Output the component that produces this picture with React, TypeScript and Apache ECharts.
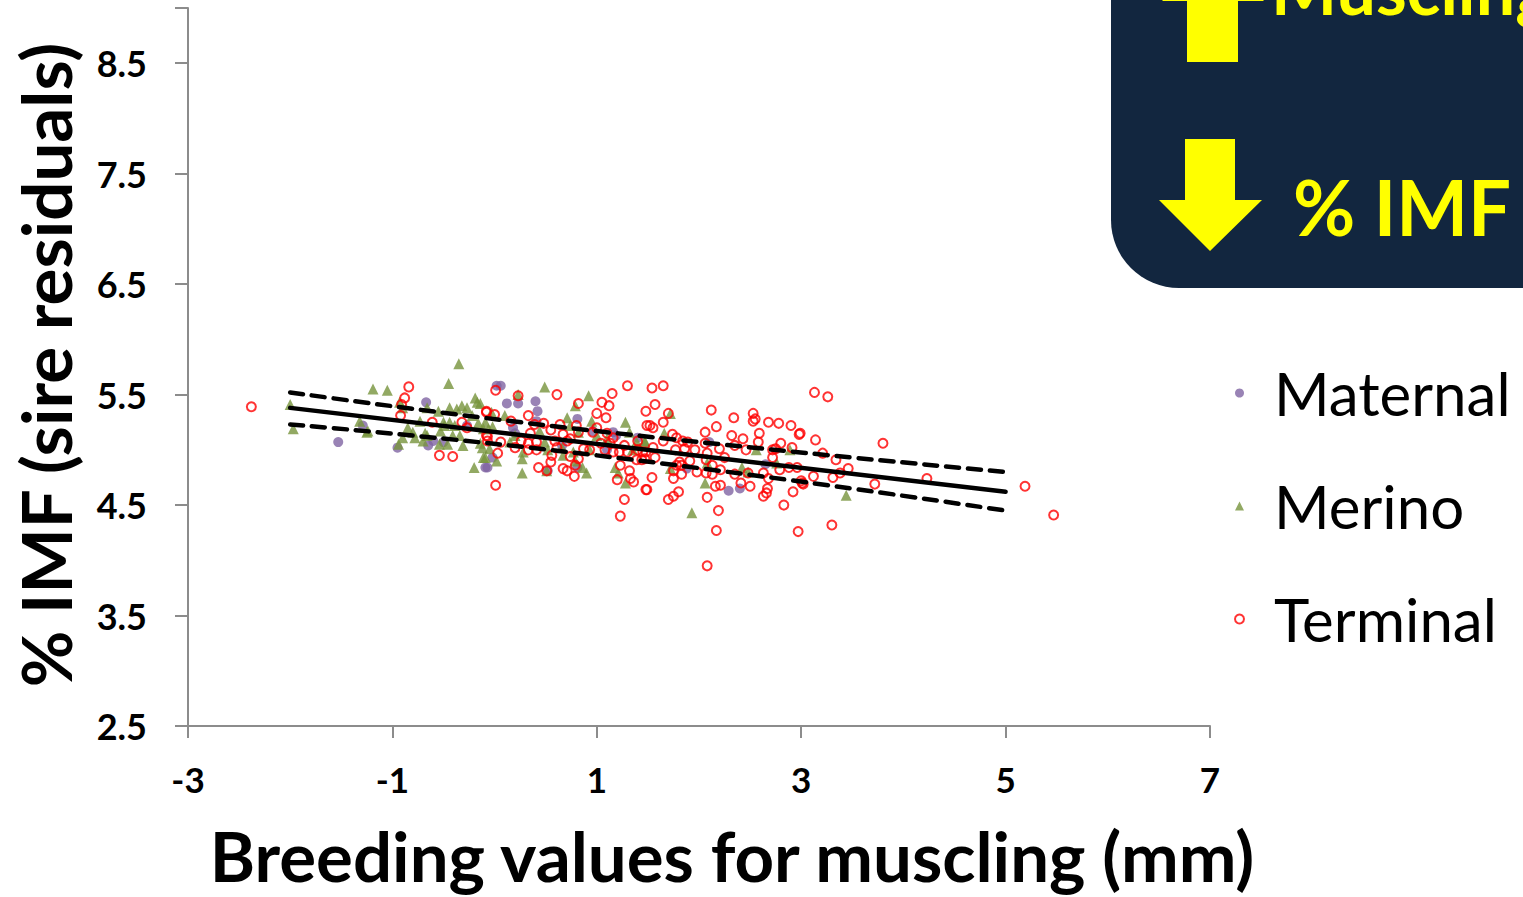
import React, { useEffect, useRef } from "react";
import * as echarts from "echarts";

const xTicks = { min: -3, max: 7, interval: 2 };
const yTicks = { min: 2.5, max: 9, interval: 1 };

const maternal: number[][] = [
  [-1.53, 5.07], [-1.29, 5.22], [-0.95, 5.02], [-0.67, 5.43], [-0.6, 5.08], [-0.65, 5.04], [-0.5, 5.07],
  [-0.27, 5.22], [-0.09, 4.84], [0.02, 5.58], [0.06, 5.58], [0.12, 5.42], [0.23, 5.42], [0.4, 5.44],
  [0.42, 5.35], [0.41, 5.26], [0.18, 5.2], [0.2, 5.15], [0.81, 5.28], [-0.07, 4.84], [0.52, 4.81],
  [1.16, 5.16], [1.19, 5.13], [1.1, 5.0], [0.96, 5.17], [0.81, 4.84], [1.4, 5.11], [-0.02, 4.93],
  [0.66, 5.04], [2.1, 5.07], [1.88, 4.83], [2.29, 4.63], [2.4, 4.65], [2.65, 4.87],
];

const merino: number[][] = [
  [-2.0, 5.41], [-1.97, 5.19], [-1.19, 5.55], [-1.05, 5.54], [-1.32, 5.26], [-1.24, 5.17], [-1.25, 5.16],
  [-0.93, 5.43], [-0.9, 5.38], [-0.94, 5.05], [-0.85, 5.2], [-0.8, 5.16], [-0.78, 5.11], [-0.9, 5.11],
  [-0.73, 5.26], [-0.68, 5.15], [-0.7, 5.08], [-0.66, 5.38], [-0.55, 5.35], [-0.45, 5.6], [-0.35, 5.78],
  [-0.44, 5.38], [-0.37, 5.37], [-0.32, 5.4], [-0.27, 5.38], [-0.19, 5.47], [-0.17, 5.43], [-0.22, 5.31],
  [-0.5, 5.25], [-0.49, 5.22], [-0.44, 5.25], [-0.39, 5.22], [-0.53, 5.17], [-0.54, 5.05], [-0.46, 5.05],
  [-0.34, 5.13], [-0.31, 5.04], [-0.16, 5.24], [-0.2, 4.84], [-0.11, 4.93], [-0.14, 5.06], [-0.06, 5.19],
  [-0.66, 5.13], [-0.41, 5.13],
  [0.23, 5.5], [0.49, 5.57], [0.92, 5.49], [0.79, 5.4], [-0.14, 5.42], [-0.03, 5.34], [-0.09, 5.25],
  [0.1, 5.31], [-0.02, 5.21], [-0.11, 5.19], [-0.12, 5.02], [-0.05, 5.01], [-0.09, 4.93], [0.02, 4.9],
  [0.15, 5.07], [0.2, 5.13], [0.27, 4.92], [0.28, 4.98], [0.44, 5.17], [0.49, 5.07], [0.52, 5.0],
  [0.66, 5.02], [0.67, 4.95], [0.71, 5.29], [0.74, 5.22], [0.77, 4.98], [0.79, 4.9], [0.86, 4.84],
  [0.9, 4.79], [0.82, 5.16], [0.93, 5.0], [0.95, 5.26], [1.0, 5.13], [1.1, 5.1], [1.18, 4.84],
  [1.21, 4.79], [1.28, 5.25], [1.28, 4.7], [1.32, 5.16], [1.35, 5.0], [1.39, 5.07], [1.47, 5.08],
  [0.27, 4.79], [0.51, 4.81],
  [1.72, 5.33], [1.47, 5.07], [1.66, 5.15], [1.72, 4.83], [2.06, 4.7], [1.93, 4.43], [2.42, 4.84],
  [2.48, 4.8], [2.56, 5.0], [2.89, 5.0], [2.76, 4.88], [2.08, 4.88], [3.44, 4.59],
];

const terminal: number[][] = [
  [-2.38, 5.39], [-0.84, 5.57], [-0.88, 5.47], [-0.91, 5.41], [-0.92, 5.31], [-0.61, 5.25], [-0.54, 4.95],
  [-0.41, 4.94], [-0.32, 5.25], [-0.27, 5.2], [-0.08, 5.35], [-0.07, 5.12], [-0.07, 5.08], [0.01, 4.68],
  [0.01, 5.54], [0.23, 5.49], [0.61, 5.5], [0.82, 5.42], [1.15, 5.51], [1.3, 5.58], [1.05, 5.43],
  [1.12, 5.4], [1.48, 5.35], [-0.08, 5.34], [0.0, 5.32], [0.33, 5.31], [0.16, 5.26], [1.0, 5.33],
  [1.09, 5.29], [0.39, 5.23], [0.48, 5.24], [0.55, 5.18], [0.64, 5.23], [0.8, 5.22], [0.82, 5.16],
  [0.35, 5.15], [0.67, 5.14], [0.74, 5.1], [1.0, 5.2], [0.96, 5.16], [1.1, 5.15], [1.16, 5.11],
  [-0.08, 5.13], [0.06, 5.07], [0.2, 5.02], [0.26, 5.08], [0.33, 5.06], [0.41, 5.07], [0.41, 5.0],
  [0.33, 5.0], [0.59, 5.08], [0.61, 5.02], [0.71, 5.08], [0.87, 5.01], [0.93, 5.0], [1.04, 5.06],
  [1.13, 5.06], [1.08, 5.0], [1.16, 4.98], [1.27, 5.04], [1.22, 4.98], [1.3, 4.98], [1.4, 5.08],
  [1.4, 5.0], [1.48, 4.98], [1.49, 5.22], [0.03, 4.97], [0.56, 4.95], [0.55, 4.89], [0.74, 4.94],
  [0.82, 4.92], [0.43, 4.84], [0.51, 4.81], [0.67, 4.83], [0.71, 4.81], [0.79, 4.86], [0.78, 4.76],
  [1.23, 4.86], [1.32, 4.81], [1.2, 4.73], [1.33, 4.74], [1.36, 4.71], [1.48, 4.64], [1.27, 4.55],
  [1.23, 4.4], [1.39, 4.91], [1.44, 4.91],
  [1.54, 5.56], [1.65, 5.58], [1.57, 5.41], [1.7, 5.33], [2.12, 5.36], [2.34, 5.29], [2.53, 5.33],
  [2.55, 5.28], [2.53, 5.26], [2.68, 5.25], [2.78, 5.24], [2.9, 5.22], [2.98, 5.14], [1.52, 5.22],
  [1.55, 5.2], [1.65, 5.25], [2.17, 5.21], [2.06, 5.16], [1.74, 5.14], [1.78, 5.11], [1.84, 5.08],
  [1.89, 5.07], [1.65, 5.08], [2.32, 5.13], [2.43, 5.1], [2.59, 5.15], [2.58, 5.07], [2.8, 5.06],
  [2.91, 5.02], [2.06, 5.06], [2.2, 5.01], [2.35, 5.04], [2.46, 5.0], [1.55, 5.02], [1.77, 5.0],
  [1.86, 5.01], [1.96, 5.0], [2.08, 4.97], [2.25, 4.93], [2.72, 5.0], [2.72, 4.93], [2.75, 5.01],
  [1.45, 4.98], [1.47, 4.92], [1.57, 4.93], [1.81, 4.89], [1.83, 4.86], [1.91, 4.9], [1.78, 4.86],
  [2.07, 4.91], [2.13, 4.86], [2.21, 4.82], [1.75, 4.81], [1.98, 4.8], [2.07, 4.79], [1.83, 4.78],
  [2.13, 4.78], [2.35, 4.78], [2.48, 4.79], [2.63, 4.79], [2.79, 4.82], [2.88, 4.84], [2.96, 4.84],
  [2.68, 4.74], [2.5, 4.67], [2.41, 4.7], [2.21, 4.68], [2.16, 4.67], [1.75, 4.74], [1.54, 4.75],
  [1.49, 4.64], [1.8, 4.62], [1.75, 4.58], [1.7, 4.55], [2.08, 4.57], [2.67, 4.65], [2.66, 4.61],
  [2.63, 4.58], [2.92, 4.62], [2.83, 4.5], [2.19, 4.45], [2.17, 4.27], [2.08, 3.95], [2.97, 4.26],
  [3.01, 4.7], [3.02, 4.69],
  [3.13, 5.52], [3.26, 5.48], [3.14, 5.09], [2.99, 5.15], [3.8, 5.06], [3.21, 4.97], [3.34, 4.91],
  [3.46, 4.83], [3.38, 4.79], [3.31, 4.75], [3.12, 4.76], [3.0, 4.72], [3.72, 4.69], [4.23, 4.74],
  [3.3, 4.32], [5.19, 4.67], [5.47, 4.41],
];

const fitX = [-2, 5];
const fitY = [5.38, 4.62];
const bandX = [-2, 1, 5];
const upperY = [5.52, 5.17, 4.8];
const lowerY = [5.23, 4.95, 4.45];

const seriesNames = ["Maternal", "Merino", "Terminal"];
const font = "Lato, 'Open Sans', sans-serif";

export default function App() {
  const ref = useRef<HTMLDivElement>(null);
  useEffect(() => {
    document.body.style.margin = "0";
    const chart = echarts.init(ref.current!, null, { renderer: "svg" });
    const yellow = "#FFFF00";
    chart.setOption({
      animation: false,
      backgroundColor: "#ffffff",
      grid: { left: 188, right: 313, top: 8, bottom: 171, containLabel: false },
      xAxis: {
        type: "value",
        min: xTicks.min,
        max: xTicks.max,
        interval: xTicks.interval,
        axisLine: { show: true, onZero: false, lineStyle: { color: "#8c8c8c", width: 2 } },
        axisTick: { show: true, length: 12, lineStyle: { color: "#8c8c8c", width: 2 } },
        splitLine: { show: false },
        axisLabel: { margin: 35, fontSize: 35, fontWeight: "bold", color: "#000", fontFamily: font },
      },
      yAxis: {
        type: "value",
        min: yTicks.min,
        max: yTicks.max,
        interval: yTicks.interval,
        axisLine: { show: true, onZero: false, lineStyle: { color: "#8c8c8c", width: 2 } },
        axisTick: { show: true, length: 13, lineStyle: { color: "#8c8c8c", width: 2 } },
        splitLine: { show: false },
        axisLabel: {
          margin: 41,
          fontSize: 36,
          fontWeight: "bold",
          color: "#000",
          fontFamily: font,
          formatter: (v: number) => (v > 8.6 ? "" : v.toFixed(1)),
        },
      },
      legend: {
        orient: "vertical",
        left: 1234,
        top: 361,
        padding: 0,
        itemWidth: 9,
        itemHeight: 9,
        itemGap: 49,
        textStyle: { fontSize: 60, lineHeight: 64, color: "#000", fontFamily: font, padding: [0, 0, 0, 25] },
        data: [
          { name: seriesNames[0], icon: "circle" },
          { name: seriesNames[1], icon: "triangle" },
          {
            name: seriesNames[2],
            icon: "circle",
            itemStyle: { color: "rgba(255,255,255,0)", borderColor: "#FF0000", borderWidth: 2 },
          },
        ],
      },
      graphic: [
        {
          type: "rect",
          shape: { x: 1111, y: -120, width: 520, height: 408, r: 68 },
          style: { fill: "#12263F" },
          z: 1,
        },
        {
          type: "polygon",
          shape: {
            points: [[1187, 62], [1238, 62], [1238, 1], [1264, 1], [1213, -50], [1162, 1], [1187, 1]],
          },
          style: { fill: yellow },
          z: 2,
        },
        {
          type: "polygon",
          shape: {
            points: [[1185, 139], [1235, 139], [1235, 200], [1262, 200], [1210, 251], [1159, 200], [1185, 200]],
          },
          style: { fill: yellow },
          z: 2,
        },
        {
          type: "text",
          x: 1271,
          y: -12,
          style: {
            text: "Muscling",
            fill: yellow,
            font: `bold 70px ${font}`,
            verticalAlign: "middle",
            align: "left",
          },
          z: 2,
        },
        {
          type: "text",
          x: 1293,
          y: 206,
          style: {
            text: "% IMF",
            fill: yellow,
            font: `bold 76px ${font}`,
            verticalAlign: "middle",
            align: "left",
          },
          z: 2,
        },
        {
          type: "text",
          x: 732,
          y: 855,
          style: {
            text: "Breeding values for muscling (mm)",
            fill: "#000",
            font: `bold 69px ${font}`,
            verticalAlign: "middle",
            align: "center",
          },
        },
        {
          type: "text",
          x: 45,
          y: 365,
          rotation: Math.PI / 2,
          style: {
            text: "% IMF (sire residuals)",
            fill: "#000",
            font: `bold 69px ${font}`,
            verticalAlign: "middle",
            align: "center",
          },
        },
      ],
      series: [
        {
          name: seriesNames[0],
          type: "scatter",
          data: maternal,
          symbol: "circle",
          symbolSize: 10,
          itemStyle: { color: "#8064A2" },
          z: 2,
        },
        {
          name: seriesNames[1],
          type: "scatter",
          data: merino,
          symbol: "triangle",
          symbolSize: 11,
          itemStyle: { color: "#77933C" },
          z: 3,
        },
        {
          name: seriesNames[2],
          type: "scatter",
          data: terminal,
          symbol: "circle",
          symbolSize: 9,
          itemStyle: { color: "rgba(255,255,255,0)", borderColor: "#FF0000", borderWidth: 2 },
          z: 4,
        },
        {
          name: "fit",
          type: "line",
          data: fitX.map((x, i) => [x, fitY[i]]),
          symbol: "none",
          lineStyle: { color: "#000", width: 4.5, cap: "round" },
          z: 5,
        },
        {
          name: "upper",
          type: "line",
          smooth: true,
          data: bandX.map((x, i) => [x, upperY[i]]),
          symbol: "none",
          lineStyle: { color: "#000", width: 4.5, type: [13, 9], cap: "round" },
          z: 5,
        },
        {
          name: "lower",
          type: "line",
          smooth: true,
          data: bandX.map((x, i) => [x, lowerY[i]]),
          symbol: "none",
          lineStyle: { color: "#000", width: 4.5, type: [13, 9], cap: "round" },
          z: 5,
        },
      ],
    });
    return () => chart.dispose();
  }, []);
  return <div ref={ref} style={{ width: 1523, height: 897 }} />;
}
